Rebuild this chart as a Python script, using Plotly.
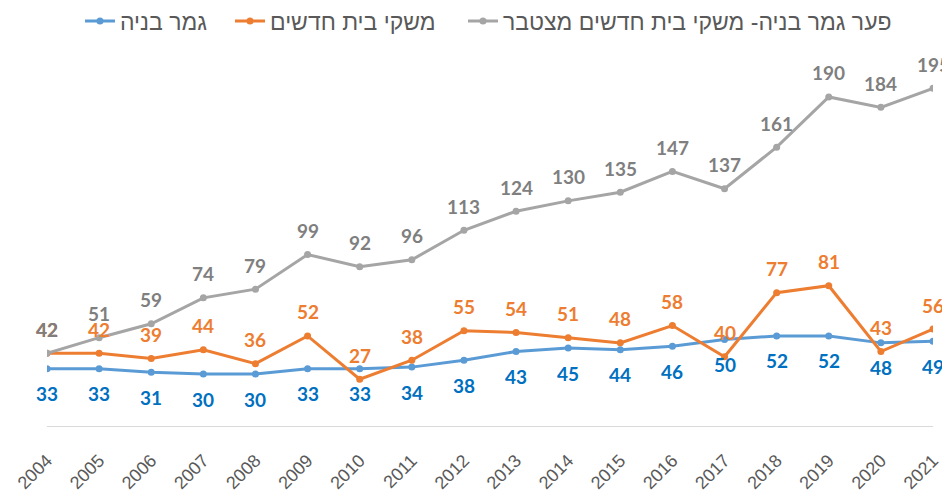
import plotly.graph_objects as go

years = list(range(2004, 2022))
completions = [33, 33, 31, 30, 30, 33, 33, 34, 38, 43, 45, 44, 46, 50, 52, 52, 48, 49]
households = [42, 42, 39, 44, 36, 52, 27, 38, 55, 54, 51, 48, 58, 40, 77, 81, 43, 56]
gap_cum = [42, 51, 59, 74, 79, 99, 92, 96, 113, 124, 130, 135, 147, 137, 161, 190, 184, 195]

names = ["גמר בניה", "משקי בית חדשים", "פער גמר בניה- משקי בית חדשים מצטבר"]
line_colors = ["#5B9BD5", "#ED7D31", "#A5A5A5"]
label_colors = ["#0070C0", "#ED7D31", "#7F7F7F"]
label_shift = [-25, 24, 24]
legend_ids = ["legend", "legend2", "legend3"]
legend_x = [72, 222, 455]
series = [completions, households, gap_cum]

W, H = 942, 484

fig = go.Figure()
for s, nm, lc, lg in zip(series, names, line_colors, legend_ids):
    fig.add_trace(go.Scatter(x=years, y=s, name=nm, mode="lines+markers",
                             line=dict(color=lc, width=3),
                             marker=dict(color=lc, size=7), legend=lg))

for s, lab, sh in zip(series, label_colors, label_shift):
    for x, v in zip(years, s):
        fig.add_annotation(x=x, y=v, text=str(v), showarrow=False, yshift=sh,
                           xanchor="center", yanchor="middle",
                           font=dict(family="Lato", size=19, color=lab, weight="bold"))

legend_style = dict(orientation="h", xref="container", yref="container", y=1 - 13 / H,
                    xanchor="left", yanchor="middle", itemwidth=30,
                    font=dict(family="Liberation Sans", size=23, color="#595959"),
                    bgcolor="rgba(0,0,0,0)", borderwidth=0)

fig.update_layout(
    width=W, height=H,
    margin=dict(l=39, r=17, t=37, b=66, autoexpand=False),
    plot_bgcolor="white", paper_bgcolor="white",
    showlegend=True,
    legend=dict(x=legend_x[0] / W, **legend_style),
    legend2=dict(x=legend_x[1] / W, **legend_style),
    legend3=dict(x=legend_x[2] / W, **legend_style),
    xaxis=dict(range=[2004, 2021], tickmode="array", tickvals=years,
               ticktext=[str(y) for y in years], tickangle=-45, automargin=False,
               showgrid=False, zeroline=False, showline=True, linecolor="#D9D9D9",
               linewidth=1, ticks="", ticklabelstandoff=16,
               tickfont=dict(family="Liberation Sans", size=18, color="#595959")),
    yaxis=dict(range=[0, 220], visible=False, showgrid=False, zeroline=False),
)

fig.write_html("out.html")
